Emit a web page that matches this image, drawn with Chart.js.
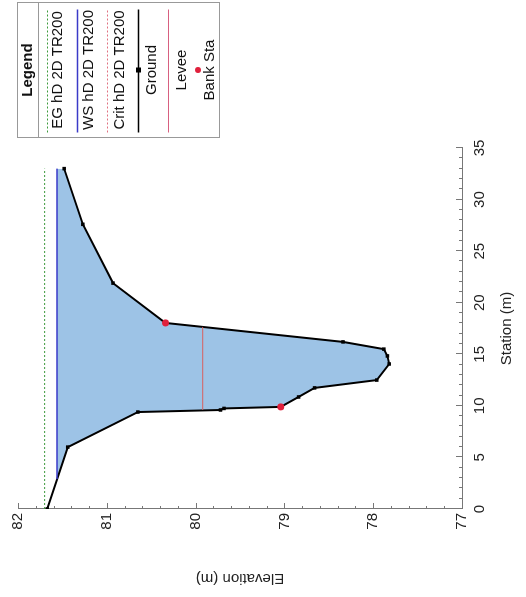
<!DOCTYPE html>
<html>
<head>
<meta charset="utf-8">
<script src="https://cdn.jsdelivr.net/npm/chart.js@4.4.1/dist/chart.umd.min.js"></script>
<style>
    html, body { margin: 0; padding: 0; background: #fff; overflow: hidden; }
    /* the figure is printed turned a quarter turn counter-clockwise */
    #wrap {
        position: absolute; left: 0; top: 0;
        width: 597px; height: 526px;
        transform-origin: 0 0;
        transform: translateY(597px) rotate(-90deg);
    }
</style>
</head>
<body>
<div id="wrap"><canvas id="chartXs" width="597" height="526"></canvas></div>
<script>
(function () {
    "use strict";

    const groundSta = [0, 6.0, 9.4, 9.6, 9.75, 9.9, 10.86, 11.74, 12.5, 14.06, 14.84, 15.5, 16.2, 18.04, 21.9, 27.6, 33.0];
    const groundElev = [81.67, 81.44, 80.65, 79.72, 79.68, 79.04, 78.84, 78.66, 77.96, 77.82, 77.84, 77.88, 78.34, 80.34, 80.93, 81.27, 81.48];

    const bankSta = [9.9, 18.04];
    const bankElev = [79.04, 80.34];

    const leveeSta = [9.6, 17.65];
    const leveeElev = 79.92;

    const wsSta = [2.9, 33.0];
    const wsElev = 81.56;

    const egSta = [0, 33.0];
    const egElev = 81.70;

    const stationTicks = [0, 5, 10, 15, 20, 25, 30, 35];
    const elevationTicks = [77, 78, 79, 80, 81, 82];

    const legendItems = ["EG hD 2D TR200", "WS hD 2D TR200", "Crit hD 2D TR200", "Ground", "Levee", "Bank Sta"];

    const FONT = "'Liberation Sans', Arial, sans-serif";
    const FILL_BLUE = "rgb(157,195,230)";

    const pts = (xs, ys) => xs.map((x, i) => ({ x, y: Array.isArray(ys) ? ys[i] : ys }));

    // inward ticks, major and minor
    const innerTicks = {
        id: "innerTicks",
        afterDraw(chart) {
            const { ctx, scales } = chart;
            const xs = scales.x, ys = scales.y;
            ctx.save();
            ctx.strokeStyle = "#777";
            ctx.lineWidth = 1;
            ctx.beginPath();
            for (let s = 0; s <= 35; s++) {
                const px = Math.round(xs.getPixelForValue(s)) + 0.5;
                const len = s % 5 === 0 ? 6 : 3;
                ctx.moveTo(px, ys.bottom);
                ctx.lineTo(px, ys.bottom - len);
            }
            for (let i = 0; i <= 25; i++) {
                const py = Math.round(ys.getPixelForValue(77 + i * 0.2)) + 0.5;
                const len = i % 5 === 0 ? 6 : 3;
                ctx.moveTo(xs.left, py);
                ctx.lineTo(xs.left + len, py);
            }
            ctx.stroke();
            ctx.restore();
        },
    };

    // HEC-RAS style boxed legend
    const boxLegend = {
        id: "boxLegend",
        afterDraw(chart) {
            const ctx = chart.ctx;
            const left = 459.5, right = 594.5, top = 17.5, bottom = 219.5;
            const cx = (left + right) / 2;
            ctx.save();
            ctx.strokeStyle = "#999";
            ctx.lineWidth = 1;
            ctx.strokeRect(left, top, right - left, bottom - top);
            ctx.beginPath();
            ctx.moveTo(left, 38.5);
            ctx.lineTo(right, 38.5);
            ctx.stroke();

            ctx.fillStyle = "#111";
            ctx.textAlign = "center";
            ctx.textBaseline = "middle";
            ctx.font = "bold 15px " + FONT;
            ctx.fillText("Legend", cx, 28);

            const lineV = [47.5, 77.5, 107.5, 138.5, 168.5];
            const styles = [
                { c: "#3c9a3c", d: [2, 2], w: 1 },
                { c: "#3a3ac8", d: [], w: 1.5 },
                { c: "#e07080", d: [2, 2], w: 1 },
                { c: "#000", d: [], w: 1.5 },
                { c: "#d86080", d: [], w: 1 },
            ];
            lineV.forEach((v, i) => {
                ctx.strokeStyle = styles[i].c;
                ctx.lineWidth = styles[i].w;
                ctx.setLineDash(styles[i].d);
                ctx.beginPath();
                ctx.moveTo(left + 5, v);
                ctx.lineTo(right - 7, v);
                ctx.stroke();
            });
            ctx.setLineDash([]);
            ctx.fillStyle = "#000";
            ctx.fillRect(cx - 2.5, 138.5 - 2.5, 5, 5);
            ctx.fillStyle = "#e0203c";
            ctx.beginPath();
            ctx.arc(cx, 198, 3, 0, Math.PI * 2);
            ctx.fill();

            ctx.fillStyle = "#111";
            ctx.font = "15px " + FONT;
            const textV = [58, 89, 120, 152, 182, 210];
            legendItems.forEach((t, i) => ctx.fillText(t, cx, textV[i]));
            ctx.restore();
        },
    };

    const canvas = document.getElementById("chartXs");

    new Chart(canvas, {
        type: "scatter",
        data: {
            datasets: [
                {
                    label: "Bank Sta",
                    data: pts(bankSta, bankElev),
                    showLine: false,
                    pointStyle: "circle",
                    pointRadius: 3.5,
                    pointBackgroundColor: "#e0203c",
                    pointBorderWidth: 0,
                },
                {
                    label: "EG hD 2D TR200",
                    data: pts(egSta, egElev),
                    showLine: true,
                    borderColor: "#3c9a3c",
                    borderWidth: 1,
                    borderDash: [2, 2],
                    pointRadius: 0,
                },
                {
                    label: "WS hD 2D TR200",
                    data: pts(wsSta, wsElev),
                    showLine: true,
                    borderColor: "#3a3ac8",
                    borderWidth: 1.5,
                    pointRadius: 0,
                },
                {
                    label: "Levee",
                    data: pts(leveeSta, leveeElev),
                    showLine: true,
                    borderColor: "#d86060",
                    borderWidth: 1,
                    pointRadius: 0,
                },
                {
                    label: "Ground",
                    data: pts(groundSta, groundElev),
                    showLine: true,
                    borderColor: "#000",
                    borderWidth: 2,
                    pointStyle: "rect",
                    pointRadius: 2.5,
                    pointBackgroundColor: "#000",
                    pointBorderWidth: 0,
                    fill: {
                        target: { value: wsElev },
                        above: "rgba(0,0,0,0)",
                        below: FILL_BLUE,
                    },
                },
            ],
        },
        options: {
            responsive: false,
            animation: false,
            devicePixelRatio: 1,
            layout: { padding: { left: 0, right: 148, top: 18, bottom: 0 } },
            plugins: {
                legend: { display: false },
                tooltip: { enabled: false },
            },
            scales: {
                x: {
                    type: "linear",
                    min: 0,
                    max: 35,
                    afterFit: (s) => { s.height = 64; },
                    afterBuildTicks: (s) => { s.ticks = stationTicks.map((v) => ({ value: v })); },
                    grid: { display: false, drawTicks: false },
                    border: { display: true, color: "#777", width: 1 },
                    ticks: { padding: 9, color: "#222", font: { family: FONT, size: 15 }, maxRotation: 0 },
                    title: { display: true, text: "Station (m)", color: "#222", font: { family: FONT, size: 15 }, padding: { top: 0, bottom: 10 } },
                },
                y: {
                    type: "linear",
                    min: 77,
                    max: 82,
                    afterFit: (s) => { s.width = 88; },
                    afterBuildTicks: (s) => { s.ticks = elevationTicks.map((v) => ({ value: v })); },
                    grid: { display: false, drawTicks: false },
                    border: { display: true, color: "#777", width: 1 },
                    ticks: { padding: 4, color: "#222", font: { family: FONT, size: 15 } },
                    title: { display: true, text: "Elevation (m)", color: "#222", font: { family: FONT, size: 15 }, padding: { top: 10, bottom: 0 } },
                },
            },
        },
        plugins: [innerTicks, boxLegend],
    });
})();
</script>
</body>
</html>
